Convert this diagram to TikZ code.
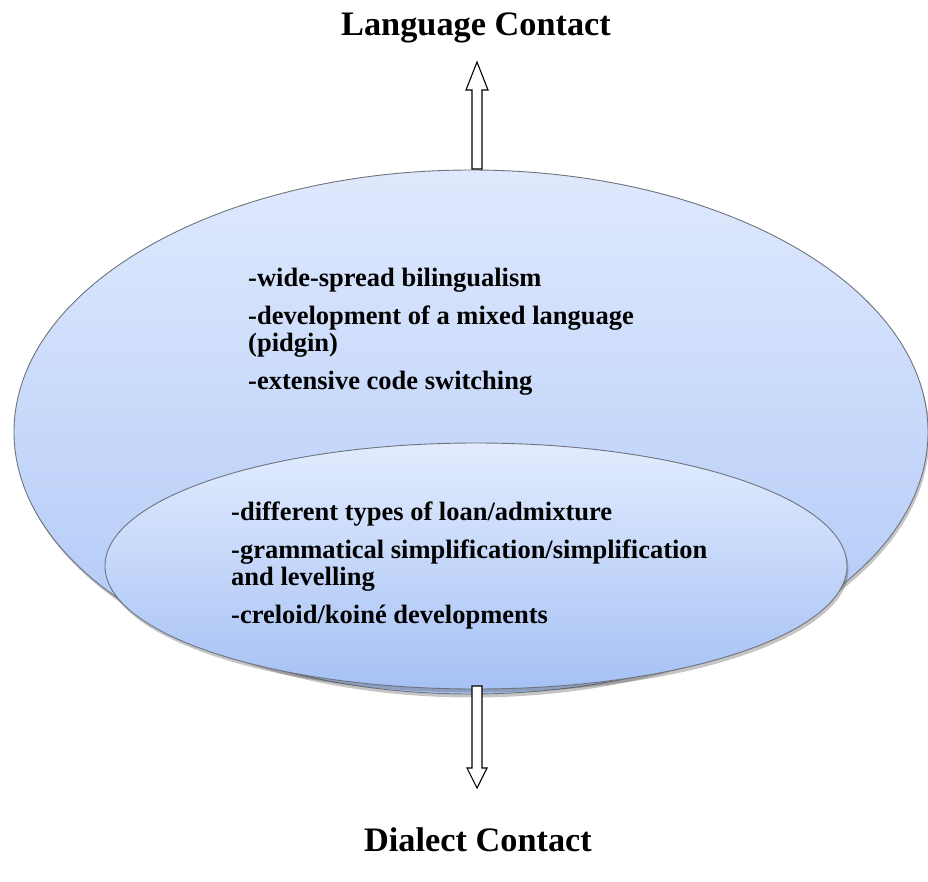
\documentclass[tikz,border=0pt]{standalone}
\usepackage{fontspec}
\setmainfont{Liberation Serif}
\usetikzlibrary{shapes.geometric,shadows}
\definecolor{outtop}{RGB}{223,233,253}
\definecolor{outbot}{RGB}{174,199,247}
\definecolor{intop}{RGB}{226,236,254}
\definecolor{inbot}{RGB}{166,193,245}
\definecolor{rim}{RGB}{110,115,125}
\tikzset{
  bubble/.style={ellipse, draw=rim, line width=0.9pt, inner sep=0pt,
    drop shadow={shadow xshift=1.5pt, shadow yshift=-3.5pt, opacity=0.3, fill=black!75}},
  title/.style={font=\fontsize{34.3}{36}\selectfont\bfseries, anchor=base, inner sep=0pt},
  item/.style={font=\fontsize{26.5}{27}\selectfont\bfseries, anchor=base west, inner sep=0pt},
  blockarrow/.style={draw=black, line width=1.1pt, fill=white, line join=miter}
}
\begin{document}
\begin{tikzpicture}[x=1pt,y=-1pt]
\useasboundingbox (0,0) rectangle (928,882);
\node[bubble, top color=outtop, bottom color=outbot, minimum width=914, minimum height=524] (outer) at (471,432) {};
\node[bubble, top color=intop, bottom color=inbot, minimum width=742, minimum height=246] (inner) at (476,566) {};

\node[title] (lang) at (476,36) {Language Contact};
\node[title] (dial) at (478,851) {Dialect Contact};

\node[item] (a1) at (248,287) {-wide-spread bilingualism};
\node[item] (a2) at (248,324) {-development of a mixed language};
\node[item] (a3) at (248,351) {(pidgin)};
\node[item] (a4) at (248,389) {-extensive code switching};

\node[item] (b1) at (231,520) {-different types of loan/admixture};
\node[item] (b2) at (231,558) {-grammatical simplification/simplification};
\node[item] (b3) at (231,585) {and levelling};
\node[item] (b4) at (231,623) {-creloid/koiné developments};

% up arrow from outer ellipse toward Language Contact
\coordinate (ub) at (477,169);
\coordinate (ut) at (477,62);
\draw[blockarrow] ([xshift=-5]ub) -- ([xshift=-5]ub |- 0,90) -- (466,90) -- (ut) -- (488,90) -- ([xshift=5]ub |- 0,90) -- ([xshift=5]ub) -- cycle;
% down arrow from inner ellipse toward Dialect Contact
\coordinate (db) at (477,686);
\coordinate (dt) at (477,788);
\draw[blockarrow] ([xshift=-5]db) -- ([xshift=-5]db |- 0,768) -- (467,768) -- (dt) -- (487,768) -- ([xshift=5]db |- 0,768) -- ([xshift=5]db) -- cycle;
\end{tikzpicture}
\end{document}
